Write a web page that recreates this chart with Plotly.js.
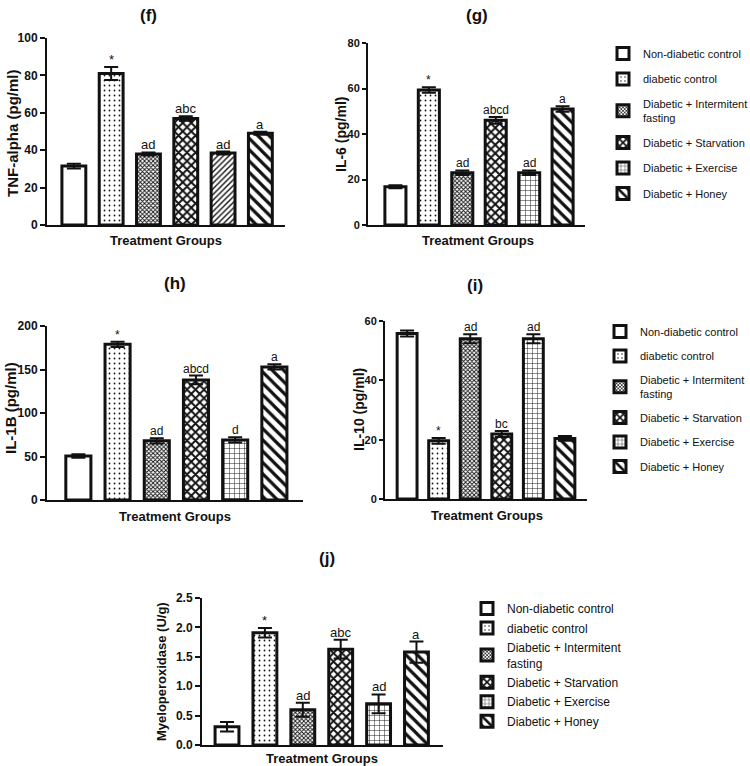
<!DOCTYPE html>
<html><head><meta charset="utf-8">
<script src="https://cdn.plot.ly/plotly-3.0.1.min.js"></script>
<style>html,body{margin:0;padding:0;background:#fff;overflow:hidden}#chart{width:750px;height:766px}</style>
</head><body><div id="chart"></div>
<script>
// ---- data ----
const groups = ["Non-diabetic control","diabetic control","Diabetic + Intermitent<br>fasting","Diabetic + Starvation","Diabetic + Exercise","Diabetic + Honey"];

const tnfValues = [31.5, 81, 38, 57, 38.5, 49];
const tnfErrors = [1.3, 3.5, 0.8, 1.2, 0.8, 0.8];
const tnfLabels = ["", "*", "ad", "abc", "ad", "a"];

const il6Values = [16.8, 59.3, 23, 46, 23, 51];
const il6Errors = [0.7, 1.2, 1.0, 1.5, 1.0, 1.2];
const il6Labels = ["", "*", "ad", "abcd", "ad", "a"];

const il1bValues = [50.5, 179, 68, 138, 69, 153];
const il1bErrors = [2, 3, 3, 5, 3, 3];
const il1bLabels = ["", "*", "ad", "abcd", "d", "a"];

const il10Values = [55.8, 19.6, 54, 21.9, 54, 20.4];
const il10Errors = [1.0, 1.0, 1.5, 1.0, 1.5, 0.8];
const il10Labels = ["", "*", "ad", "bc", "ad", ""];

const mpoValues = [0.31, 1.91, 0.60, 1.63, 0.70, 1.58];
const mpoErrors = [0.08, 0.08, 0.12, 0.16, 0.16, 0.18];
const mpoLabels = ["", "*", "ad", "abc", "ad", "a"];

const panelLetters = ["(f)", "(g)", "(h)", "(i)", "(j)"];
const yTitles = ["TNF-alpha (pg/ml)", "IL-6 (pg/ml)", "IL-1B (pg/ml)", "IL-10 (pg/ml)", "Myeloperoxidase (U/g)"];
const xTitle = "Treatment Groups";

// ---- layout helpers (pixel positions -> paper) ----
const W = 750, H = 766;
const px = v => v / W;
const py = v => 1 - v / H;

const FONT = "Liberation Sans, Arial, sans-serif";

const panels = [
  {vals: tnfValues, errs: tnfErrors, labs: tnfLabels, x0: 47, x1: 285, y0: 38, y1: 225, xr: [-0.72, 5.66], ymax: 100, dtick: 20, fmt: "", bw: 0.64,
   title: [148, 15], ytx: 12, yty: 133, ytSize: 15, tickSize: 12, tickLen: 5, xtt: [166, 240], legend: null, lblSize: 13,
   shapes: ["", ".", "x", "X", "/", "\\"]},
  {vals: il6Values, errs: il6Errors, labs: il6Labels, x0: 368, x1: 585, y0: 43, y1: 225, xr: [-0.82, 5.67], ymax: 80, dtick: 20, fmt: "", bw: 0.63,
   title: [477, 15], ytx: 341, yty: 135, ytSize: 14, tickSize: 11, tickLen: 4, xtt: [478, 240], legend: "legend", lblSize: 12,
   shapes: ["", ".", "x", "X", "+", "\\"]},
  {vals: il1bValues, errs: il1bErrors, labs: il1bLabels, x0: 47, x1: 303, y0: 326, y1: 500, xr: [-0.80, 5.73], ymax: 200, dtick: 50, fmt: "", bw: 0.64,
   title: [175, 283], ytx: 10, yty: 408, ytSize: 15, tickSize: 12, tickLen: 5, xtt: [175, 516], legend: null, lblSize: 12,
   shapes: ["", ".", "x", "X", "+", "\\"]},
  {vals: il10Values, errs: il10Errors, labs: il10Labels, x0: 385, x1: 587, y0: 321, y1: 499, xr: [-0.70, 5.70], ymax: 60, dtick: 20, fmt: "", bw: 0.63,
   title: [475, 285], ytx: 359, yty: 410, ytSize: 14, tickSize: 11, tickLen: 4, xtt: [487, 515], legend: "legend2", lblSize: 12,
   shapes: ["", ".", "x", "X", "+", "\\"]},
  {vals: mpoValues, errs: mpoErrors, labs: mpoLabels, x0: 202, x1: 443, y0: 598, y1: 745, xr: [-0.66, 5.70], ymax: 2.5, dtick: 0.5, fmt: ".1f", bw: 0.63,
   title: [327, 558], ytx: 161, yty: 672, ytSize: 13, tickSize: 12, tickLen: 5, xtt: [322, 758], legend: "legend3", lblSize: 13,
   shapes: ["", ".", "x", "X", "+", "\\"]}
];

// pattern styling; "X" = coarse checker-like cross pattern
const patShape = {"": "", ".": ".", "x": "x", "X": "x", "+": "+", "/": "/", "\\": "\\"};
const patSize = {"": 8, ".": 5, "x": 3, "X": 6, "+": 5, "/": 4, "\\": 8};
const patSolid = {"": 0.3, ".": 0.1, "x": 0.5, "X": 0.55, "+": 0.18, "/": 0.35, "\\": 0.4};

const traces = [];
const annotations = [];
const layout = {
  width: W, height: H,
  margin: {l: 0, r: 0, t: 0, b: 0, autoexpand: false},
  paper_bgcolor: "#fff", plot_bgcolor: "#fff",
  barmode: "overlay",
  font: {family: FONT, color: "#111", size: 12},
  showlegend: true
};

panels.forEach((p, k) => {
  const n = k === 0 ? "" : String(k + 1);
  const xa = "x" + n, ya = "y" + n;
  layout["xaxis" + n] = {
    domain: [px(p.x0), px(p.x1)], anchor: ya, type: "category", categoryarray: groups,
    range: p.xr, showticklabels: false, ticks: "", showline: true, linecolor: "#111", linewidth: 2,
    showgrid: false, zeroline: false, fixedrange: true, automargin: false
  };
  layout["yaxis" + n] = {
    domain: [py(p.y1), py(p.y0)], anchor: xa, range: [0, p.ymax], dtick: p.dtick, tick0: 0,
    tickformat: p.fmt, ticks: "outside", ticklen: p.tickLen, tickwidth: 2, tickcolor: "#111",
    showline: true, linecolor: "#111", linewidth: 2, showgrid: false, zeroline: false, automargin: false,
    tickfont: {family: FONT, size: p.tickSize, weight: "bold", color: "#111"}, fixedrange: true
  };
  groups.forEach((g, i) => {
    const sh = p.shapes[i];
    traces.push({
      type: "bar", x: [g], y: [p.vals[i]], xaxis: xa, yaxis: ya, width: p.bw,
      name: g, legend: p.legend || "legend", showlegend: !!p.legend,
      legendgroup: "p" + k + "g" + i,
      marker: {
        color: "#fff",
        line: {color: "#111", width: 3},
        pattern: {shape: patShape[sh], fgcolor: "#111", bgcolor: "#fff", size: patSize[sh], solidity: patSolid[sh], fillmode: "replace"}
      },
      error_y: {type: "data", array: [p.errs[i]], visible: true, color: "#111", thickness: 2, width: 7},
      hoverinfo: "skip"
    });
    if (p.labs[i]) {
      annotations.push({
        xref: xa, yref: ya, x: g, y: p.vals[i] + p.errs[i], yanchor: "bottom", xanchor: "center",
        text: p.labs[i], showarrow: false, yshift: -2,
        font: {family: FONT, size: p.lblSize, color: "#111"}
      });
    }
  });
  annotations.push({xref: "paper", yref: "paper", x: px(p.title[0]), y: py(p.title[1]), xanchor: "center", yanchor: "middle",
    text: panelLetters[k], showarrow: false, font: {family: FONT, size: 17, weight: "bold", color: "#111"}});
  annotations.push({xref: "paper", yref: "paper", x: px(p.ytx), y: py(p.yty), xanchor: "center", yanchor: "middle",
    text: yTitles[k], textangle: -90, showarrow: false, font: {family: FONT, size: p.ytSize, weight: "bold", color: "#111"}});
  annotations.push({xref: "paper", yref: "paper", x: px(p.xtt[0]), y: py(p.xtt[1]), xanchor: "center", yanchor: "middle",
    text: xTitle, showarrow: false, font: {family: FONT, size: 13, weight: "bold", color: "#111"}});
});

const legBase = {xanchor: "left", yanchor: "top", bgcolor: "rgba(0,0,0,0)", borderwidth: 0, itemclick: false, itemdoubleclick: false};
layout.legend = Object.assign({}, legBase, {x: px(603), y: py(39), tracegroupgap: 6.5, font: {family: FONT, size: 11, color: "#111"}});
layout.legend2 = Object.assign({}, legBase, {x: px(600), y: py(317), tracegroupgap: 5.5, font: {family: FONT, size: 11, color: "#111"}});
layout.legend3 = Object.assign({}, legBase, {x: px(467), y: py(594), tracegroupgap: 0.5, font: {family: FONT, size: 12, color: "#111"}});
layout.annotations = annotations;

Plotly.newPlot("chart", traces, layout, {staticPlot: true, displayModeBar: false});
</script>
</body></html>
